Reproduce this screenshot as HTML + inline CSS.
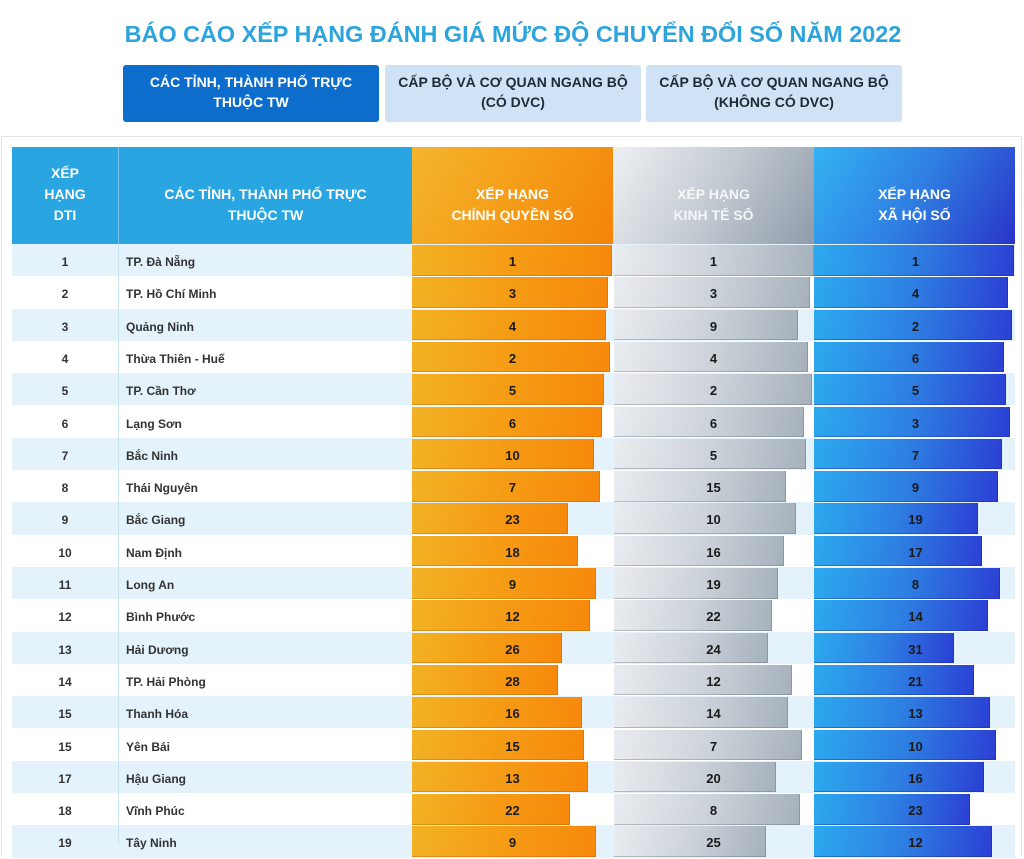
<!DOCTYPE html>
<html><head><meta charset="utf-8">
<style>
*{margin:0;padding:0;box-sizing:border-box}
html,body{width:1024px;height:835px;overflow:hidden;background:#fff;font-family:"Liberation Sans",Arial,sans-serif}
.title{position:absolute;left:0;width:1026px;top:19px;text-align:center;font-size:23.4px;font-weight:bold;color:#2ea4dd;line-height:30px;white-space:nowrap}
.tab{position:absolute;top:65px;height:57px;border-radius:3px;font-size:14px;font-weight:bold;text-align:center;line-height:19.5px;padding-top:8px;color:#1f2a36}
.t1{left:123px;width:256px;background:#0c6dcc;color:#fff}
.t2{left:385px;width:256px;background:#cfe2f6}
.t3{left:646px;width:256px;background:#cfe2f6}
.box{position:absolute;left:1px;top:136px;width:1021px;height:720px;border:1px solid #e4e4e4;border-bottom:none}
.hd{position:absolute;top:147px;height:97px;color:#fff;font-weight:bold;font-size:14px;line-height:21px;text-align:center}
.h1{left:12px;width:106px;background:#29a5e1;padding-top:16px}
.h2{left:118px;width:294px;background:#29a5e1;padding-top:37px;border-left:1px solid #7cc6ec}
.h3{left:412px;width:201px;background:linear-gradient(120deg,#f4b52d 0%,#f59d18 50%,#f4830a 100%);padding-top:37px}
.h4{left:613px;width:201px;background:linear-gradient(120deg,#eef0f3 0%,#c3cad2 50%,#8f9ca9 100%);padding-top:37px;color:#f4f6f8}
.h5{left:814px;width:201px;background:linear-gradient(120deg,#33b2f2 0%,#2f7fe2 50%,#2a34c8 100%);padding-top:37px}
.row{position:absolute;left:12px;width:1003px;height:32.3px}
.odd{background:#e3f2fb}
.vl{position:absolute;left:118px;top:244px;width:1px;height:600px;background:#c8e4f3}
.n{position:absolute;left:0;top:0;width:106px;text-align:center;font-size:12px;font-weight:bold;color:#333;line-height:32px;padding-top:2px}
.nm{position:absolute;left:114px;top:0;font-size:12px;font-weight:bold;color:#333;line-height:32px;white-space:nowrap;padding-top:2px}
.bar{position:absolute;top:1px;height:30.5px}
.bo{left:400px;background:linear-gradient(100deg,#f2b224 0%,#f59e16 45%,#f7880b 100%);box-shadow:inset -1px -1px 0 rgba(180,90,0,.35)}
.bg{left:602px;background:linear-gradient(100deg,#e9ecf0 0%,#cdd3da 50%,#a6b1bc 100%);box-shadow:inset -1px -1px 0 rgba(90,100,115,.35)}
.bb{left:802px;background:linear-gradient(100deg,#2ca9ef 0%,#2e7fe2 50%,#2b3fd4 100%);box-shadow:inset -1px -1px 0 rgba(20,30,140,.35)}
.v{position:absolute;top:0;width:201px;text-align:center;font-size:13px;font-weight:bold;color:#1a1a1a;line-height:32px;padding-top:2px}
.vo{left:400px}.vg{left:601px}.vb{left:803px}
</style></head><body>
<div class="title">BÁO CÁO XẾP HẠNG ĐÁNH GIÁ MỨC ĐỘ CHUYỂN ĐỔI SỐ NĂM 2022</div>
<div class="tab t1">CÁC TỈNH, THÀNH PHỐ TRỰC<br>THUỘC TW</div>
<div class="tab t2">CẤP BỘ VÀ CƠ QUAN NGANG BỘ<br>(CÓ DVC)</div>
<div class="tab t3">CẤP BỘ VÀ CƠ QUAN NGANG BỘ<br>(KHÔNG CÓ DVC)</div>
<div class="box"></div>
<div class="hd h1">XẾP<br>HẠNG<br>DTI</div>
<div class="hd h2">CÁC TỈNH, THÀNH PHỐ TRỰC<br>THUỘC TW</div>
<div class="hd h3">XẾP HẠNG<br>CHÍNH QUYỀN SỐ</div>
<div class="hd h4">XẾP HẠNG<br>KINH TẾ SỐ</div>
<div class="hd h5">XẾP HẠNG<br>XÃ HỘI SỐ</div>

<div class="row odd" style="top:244px"><div class="n">1</div><div class="nm">TP. Đà Nẵng</div>
<div class="bar bo" style="width:200px"></div><div class="v vo">1</div>
<div class="bar bg" style="width:200px"></div><div class="v vg">1</div>
<div class="bar bb" style="width:200px"></div><div class="v vb">1</div></div>

<div class="row" style="top:276.3px"><div class="n">2</div><div class="nm">TP. Hồ Chí Minh</div>
<div class="bar bo" style="width:196px"></div><div class="v vo">3</div>
<div class="bar bg" style="width:196px"></div><div class="v vg">3</div>
<div class="bar bb" style="width:194px"></div><div class="v vb">4</div></div>

<div class="row odd" style="top:308.6px"><div class="n">3</div><div class="nm">Quảng Ninh</div>
<div class="bar bo" style="width:194px"></div><div class="v vo">4</div>
<div class="bar bg" style="width:184px"></div><div class="v vg">9</div>
<div class="bar bb" style="width:198px"></div><div class="v vb">2</div></div>

<div class="row" style="top:340.9px"><div class="n">4</div><div class="nm">Thừa Thiên - Huế</div>
<div class="bar bo" style="width:198px"></div><div class="v vo">2</div>
<div class="bar bg" style="width:194px"></div><div class="v vg">4</div>
<div class="bar bb" style="width:190px"></div><div class="v vb">6</div></div>

<div class="row odd" style="top:373.2px"><div class="n">5</div><div class="nm">TP. Cần Thơ</div>
<div class="bar bo" style="width:192px"></div><div class="v vo">5</div>
<div class="bar bg" style="width:198px"></div><div class="v vg">2</div>
<div class="bar bb" style="width:192px"></div><div class="v vb">5</div></div>

<div class="row" style="top:405.5px"><div class="n">6</div><div class="nm">Lạng Sơn</div>
<div class="bar bo" style="width:190px"></div><div class="v vo">6</div>
<div class="bar bg" style="width:190px"></div><div class="v vg">6</div>
<div class="bar bb" style="width:196px"></div><div class="v vb">3</div></div>

<div class="row odd" style="top:437.8px"><div class="n">7</div><div class="nm">Bắc Ninh</div>
<div class="bar bo" style="width:182px"></div><div class="v vo">10</div>
<div class="bar bg" style="width:192px"></div><div class="v vg">5</div>
<div class="bar bb" style="width:188px"></div><div class="v vb">7</div></div>

<div class="row" style="top:470.1px"><div class="n">8</div><div class="nm">Thái Nguyên</div>
<div class="bar bo" style="width:188px"></div><div class="v vo">7</div>
<div class="bar bg" style="width:172px"></div><div class="v vg">15</div>
<div class="bar bb" style="width:184px"></div><div class="v vb">9</div></div>

<div class="row odd" style="top:502.4px"><div class="n">9</div><div class="nm">Bắc Giang</div>
<div class="bar bo" style="width:156px"></div><div class="v vo">23</div>
<div class="bar bg" style="width:182px"></div><div class="v vg">10</div>
<div class="bar bb" style="width:164px"></div><div class="v vb">19</div></div>

<div class="row" style="top:534.7px"><div class="n">10</div><div class="nm">Nam Định</div>
<div class="bar bo" style="width:166px"></div><div class="v vo">18</div>
<div class="bar bg" style="width:170px"></div><div class="v vg">16</div>
<div class="bar bb" style="width:168px"></div><div class="v vb">17</div></div>

<div class="row odd" style="top:567px"><div class="n">11</div><div class="nm">Long An</div>
<div class="bar bo" style="width:184px"></div><div class="v vo">9</div>
<div class="bar bg" style="width:164px"></div><div class="v vg">19</div>
<div class="bar bb" style="width:186px"></div><div class="v vb">8</div></div>

<div class="row" style="top:599.3px"><div class="n">12</div><div class="nm">Bình Phước</div>
<div class="bar bo" style="width:178px"></div><div class="v vo">12</div>
<div class="bar bg" style="width:158px"></div><div class="v vg">22</div>
<div class="bar bb" style="width:174px"></div><div class="v vb">14</div></div>

<div class="row odd" style="top:631.6px"><div class="n">13</div><div class="nm">Hải Dương</div>
<div class="bar bo" style="width:150px"></div><div class="v vo">26</div>
<div class="bar bg" style="width:154px"></div><div class="v vg">24</div>
<div class="bar bb" style="width:140px"></div><div class="v vb">31</div></div>

<div class="row" style="top:663.9px"><div class="n">14</div><div class="nm">TP. Hải Phòng</div>
<div class="bar bo" style="width:146px"></div><div class="v vo">28</div>
<div class="bar bg" style="width:178px"></div><div class="v vg">12</div>
<div class="bar bb" style="width:160px"></div><div class="v vb">21</div></div>

<div class="row odd" style="top:696.2px"><div class="n">15</div><div class="nm">Thanh Hóa</div>
<div class="bar bo" style="width:170px"></div><div class="v vo">16</div>
<div class="bar bg" style="width:174px"></div><div class="v vg">14</div>
<div class="bar bb" style="width:176px"></div><div class="v vb">13</div></div>

<div class="row" style="top:728.5px"><div class="n">15</div><div class="nm">Yên Bái</div>
<div class="bar bo" style="width:172px"></div><div class="v vo">15</div>
<div class="bar bg" style="width:188px"></div><div class="v vg">7</div>
<div class="bar bb" style="width:182px"></div><div class="v vb">10</div></div>

<div class="row odd" style="top:760.8px"><div class="n">17</div><div class="nm">Hậu Giang</div>
<div class="bar bo" style="width:176px"></div><div class="v vo">13</div>
<div class="bar bg" style="width:162px"></div><div class="v vg">20</div>
<div class="bar bb" style="width:170px"></div><div class="v vb">16</div></div>

<div class="row" style="top:793.1px"><div class="n">18</div><div class="nm">Vĩnh Phúc</div>
<div class="bar bo" style="width:158px"></div><div class="v vo">22</div>
<div class="bar bg" style="width:186px"></div><div class="v vg">8</div>
<div class="bar bb" style="width:156px"></div><div class="v vb">23</div></div>

<div class="row odd" style="top:825.4px"><div class="n">19</div><div class="nm">Tây Ninh</div>
<div class="bar bo" style="width:184px"></div><div class="v vo">9</div>
<div class="bar bg" style="width:152px"></div><div class="v vg">25</div>
<div class="bar bb" style="width:178px"></div><div class="v vb">12</div></div>

<div class="vl"></div>
</body></html>
